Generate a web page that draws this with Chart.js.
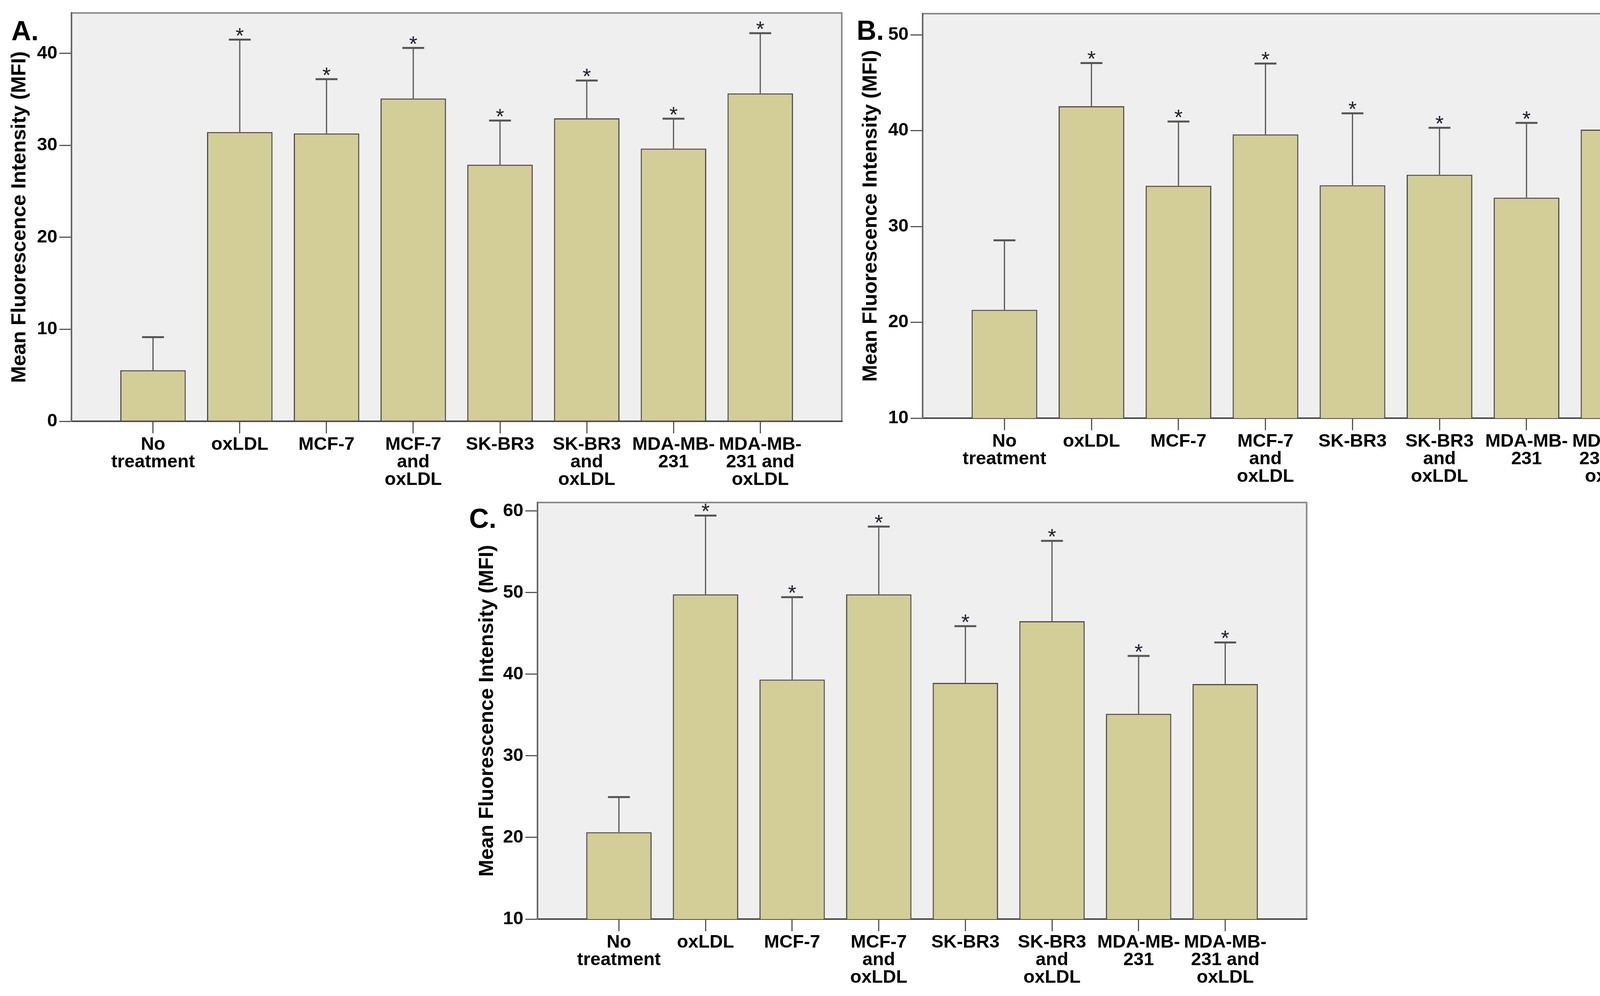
<!DOCTYPE html>
<html>
<head>
<meta charset="utf-8">
<script src="https://cdn.jsdelivr.net/npm/chart.js@4.4.1/dist/chart.umd.min.js"></script>
<style>
    body { margin: 0; background: #fff; width: 4359px; height: 2551px; position: relative; overflow: hidden; }
    canvas { position: absolute; }
    .tag { position: absolute; font: bold 70px "Liberation Sans", Arial, sans-serif; line-height: 70px; color: #000; }
</style>
</head>
<body>
<div class="tag" style="left:29px; top:44px">A.</div>
<div class="tag" style="left:2193px; top:43px">B.</div>
<div class="tag" style="left:1201px; top:1293px">C.</div>
<canvas id="chartA" width="2185" height="1270" style="left:0px; top:0px"></canvas>
<canvas id="chartB" width="2189" height="1270" style="left:2170px; top:0px"></canvas>
<canvas id="chartC" width="2230" height="1311" style="left:1150px; top:1240px"></canvas>
<script>
const categories = [
    "No treatment",
    "oxLDL",
    "MCF-7",
    "MCF-7 and oxLDL",
    "SK-BR3",
    "SK-BR3 and oxLDL",
    "MDA-MB-231",
    "MDA-MB-231 and oxLDL",
];
// how the category names wrap under the axis
const tickLines = [
    ["No", "treatment"],
    ["oxLDL"],
    ["MCF-7"],
    ["MCF-7", "and", "oxLDL"],
    ["SK-BR3"],
    ["SK-BR3", "and", "oxLDL"],
    ["MDA-MB-", "231"],
    ["MDA-MB-", "231 and", "oxLDL"],
];

// mean MFI and top of the error bar
const meanA = [5.55, 31.45, 31.3, 35.1, 27.9, 32.95, 29.65, 35.65];
const upperA = [9.15, 41.5, 37.2, 40.6, 32.7, 37.05, 32.9, 42.2];
const meanB = [21.3, 42.55, 34.25, 39.6, 34.3, 35.4, 33.0, 40.1];
const upperB = [28.55, 47.05, 40.95, 47.0, 41.8, 40.3, 40.8, 48.5];
const meanC = [20.65, 49.8, 39.35, 49.8, 38.95, 46.5, 35.15, 38.8];
const upperC = [24.95, 59.45, 49.45, 58.1, 45.9, 56.35, 42.25, 43.9];
const starred = [false, true, true, true, true, true, true, true];

const yTicksA = [0, 10, 20, 30, 40];
const yTicksB = [10, 20, 30, 40, 50];
const yTicksC = [10, 20, 30, 40, 50, 60];

const FONT = '"Liberation Sans", Arial, Helvetica, sans-serif';

const panelBox = {
    id: "panelBox",
    beforeDraw(chart) {
        const { ctx, chartArea: a } = chart;
        ctx.save();
        ctx.fillStyle = "#efefef";
        ctx.fillRect(a.left, a.top, a.right - a.left, a.bottom - a.top);
        ctx.strokeStyle = "#8a8a8a";
        ctx.lineWidth = 4;
        ctx.beginPath();
        ctx.moveTo(a.left, a.top);
        ctx.lineTo(a.right, a.top);
        ctx.lineTo(a.right, a.bottom);
        ctx.stroke();
        ctx.restore();
    },
};

const errorBars = {
    id: "errorBars",
    afterDatasetsDraw(chart, args, opts) {
        const { ctx } = chart;
        const y = chart.scales.y;
        const bars = chart.getDatasetMeta(0).data;
        ctx.save();
        ctx.strokeStyle = "#555";
        bars.forEach((bar, i) => {
            const top = y.getPixelForValue(opts.upper[i]);
            ctx.lineWidth = 3;
            ctx.beginPath();
            ctx.moveTo(bar.x, bar.y);
            ctx.lineTo(bar.x, top);
            ctx.stroke();
            ctx.lineWidth = 5;
            ctx.beginPath();
            ctx.moveTo(bar.x - 28, top);
            ctx.lineTo(bar.x + 28, top);
            ctx.stroke();
            if (opts.stars[i]) {
                ctx.fillStyle = "#1e1e2e";
                ctx.font = "55px " + FONT;
                ctx.textAlign = "center";
                ctx.textBaseline = "alphabetic";
                ctx.fillText("*", bar.x, top + 8);
            }
        });
        ctx.restore();
    },
};

function makeChart(id, means, upper, yTicks, yMin, yMax, L) {
    const config = {
        type: "bar",
        data: {
            datasets: [
                {
                    data: means.map((v, i) => ({ x: i, y: v })),
                    backgroundColor: "#d3cd97",
                    borderColor: "#4d4d4d",
                    borderWidth: 3,
                    borderSkipped: "bottom",
                    barPercentage: 0.755,
                    categoryPercentage: 1,
                },
            ],
        },
        options: {
            responsive: false,
            animation: false,
            devicePixelRatio: 1,
            layout: { padding: { top: L.top, right: L.right, left: 0, bottom: 0 } },
            plugins: {
                legend: { display: false },
                tooltip: { enabled: false },
                errorBars: { upper: upper, stars: starred },
            },
            scales: {
                x: {
                    type: "linear",
                    min: -0.94,
                    max: categories.length - 1 + 0.94,
                    offset: false,
                    grid: { offset: false, drawOnChartArea: false, color: "#555", lineWidth: 3, tickLength: 31 },
                    border: { color: "#4a4a4a", width: 4 },
                    afterBuildTicks: (s) => {
                        s.ticks = categories.map((c, i) => ({ value: i }));
                    },
                    ticks: {
                        autoSkip: false,
                        maxRotation: 0,
                        padding: 6,
                        color: "#000",
                        font: { family: FONT, size: 47, weight: "bold", lineHeight: 0.96 },
                        callback: (v) => tickLines[v],
                    },
                    afterFit: (s) => {
                        s.height = L.xh;
                    },
                },
                y: {
                    min: yMin,
                    max: yMax,
                    grid: { drawOnChartArea: false, color: "#555", lineWidth: 3, tickLength: 31 },
                    border: { color: "#666", width: 4 },
                    afterBuildTicks: (s) => {
                        s.ticks = yTicks.map((v) => ({ value: v }));
                    },
                    ticks: {
                        padding: 5,
                        color: "#000",
                        font: { family: FONT, size: 47, weight: "bold" },
                    },
                    title: {
                        display: true,
                        text: "Mean Fluorescence Intensity (MFI)",
                        color: "#000",
                        font: { family: FONT, size: 52, weight: "bold", lineHeight: 1.2 },
                        padding: { top: L.tp, bottom: 0 },
                    },
                    afterFit: (s) => {
                        s.width = L.yw;
                    },
                },
            },
        },
        plugins: [panelBox, errorBars],
    };
    return new Chart(document.getElementById(id), config);
}

var chartA = makeChart("chartA", meanA, upperA, yTicksA, 0, 44.4, { top: 29, right: 30, xh: 191, yw: 183, tp: 19 });
var chartB = makeChart("chartB", meanB, upperB, yTicksB, 10, 52.2, { top: 35, right: 19, xh: 199, yw: 192, tp: 28 });
var chartC = makeChart("chartC", meanC, upperC, yTicksC, 10, 61.05, { top: 47, right: 35, xh: 197, yw: 226, tp: 66 });
</script>
</body>
</html>
